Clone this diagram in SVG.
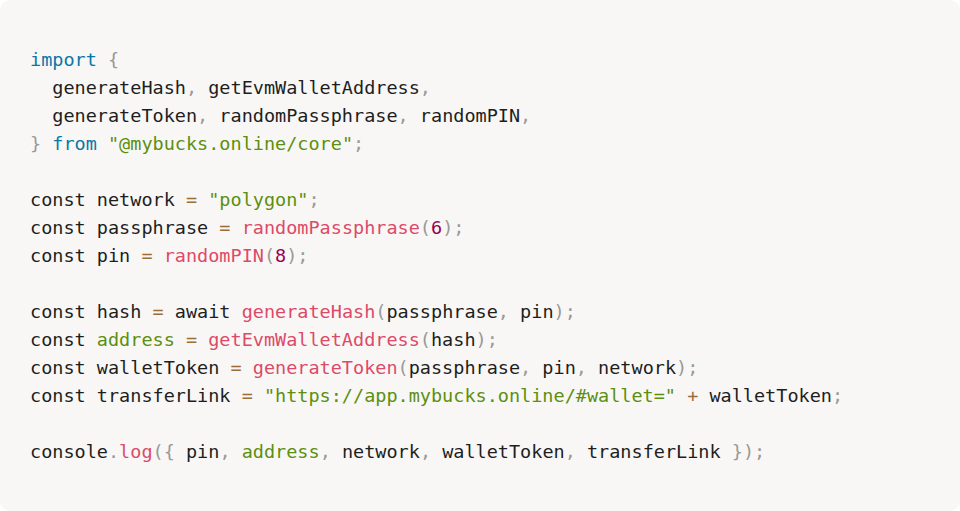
<svg xmlns="http://www.w3.org/2000/svg" width="960" height="511" viewBox="0 0 960 511">
<style>
text{font-family:"DejaVu Sans Mono",monospace;font-size:18.5px;fill:#1e1e1e;white-space:pre}
.k{fill:#0a77a8}.s{fill:#5c8f10}.f{fill:#dd4a68}.n{fill:#990055}.p{fill:#999}.o{fill:#9a6e3a}
</style>
<rect x="0" y="0" width="960" height="511" rx="10" fill="#f8f7f5"/>
<g id="code" xml:space="preserve" transform="translate(0,-1.5)">
<text x="30" y="67"><tspan class="k">import</tspan> <tspan class="p">{</tspan></text>
<text x="30" y="95">  generateHash<tspan class="p">,</tspan> getEvmWalletAddress<tspan class="p">,</tspan></text>
<text x="30" y="123">  generateToken<tspan class="p">,</tspan> randomPassphrase<tspan class="p">,</tspan> randomPIN<tspan class="p">,</tspan></text>
<text x="30" y="151"><tspan class="p">}</tspan> <tspan class="k">from</tspan> <tspan class="s">"@mybucks.online/core"</tspan><tspan class="p">;</tspan></text>
<text x="30" y="207">const network <tspan class="o">=</tspan> <tspan class="s">"polygon"</tspan><tspan class="p">;</tspan></text>
<text x="30" y="235">const passphrase <tspan class="o">=</tspan> <tspan class="f">randomPassphrase</tspan><tspan class="p">(</tspan><tspan class="n">6</tspan><tspan class="p">);</tspan></text>
<text x="30" y="263">const pin <tspan class="o">=</tspan> <tspan class="f">randomPIN</tspan><tspan class="p">(</tspan><tspan class="n">8</tspan><tspan class="p">);</tspan></text>
<text x="30" y="319">const hash <tspan class="o">=</tspan> await <tspan class="f">generateHash</tspan><tspan class="p">(</tspan>passphrase<tspan class="p">,</tspan> pin<tspan class="p">);</tspan></text>
<text x="30" y="347">const <tspan class="s">address</tspan> <tspan class="o">=</tspan> <tspan class="f">getEvmWalletAddress</tspan><tspan class="p">(</tspan>hash<tspan class="p">);</tspan></text>
<text x="30" y="375">const walletToken <tspan class="o">=</tspan> <tspan class="f">generateToken</tspan><tspan class="p">(</tspan>passphrase<tspan class="p">,</tspan> pin<tspan class="p">,</tspan> network<tspan class="p">);</tspan></text>
<text x="30" y="403">const transferLink <tspan class="o">=</tspan> <tspan class="s">"https://app.mybucks.online/#wallet="</tspan> <tspan class="o">+</tspan> walletToken<tspan class="p">;</tspan></text>
<text x="30" y="459">console<tspan class="p">.</tspan><tspan class="f">log</tspan><tspan class="p">({</tspan> pin<tspan class="p">,</tspan> <tspan class="s">address</tspan><tspan class="p">,</tspan> network<tspan class="p">,</tspan> walletToken<tspan class="p">,</tspan> transferLink <tspan class="p">});</tspan></text>
</g>
</svg>
